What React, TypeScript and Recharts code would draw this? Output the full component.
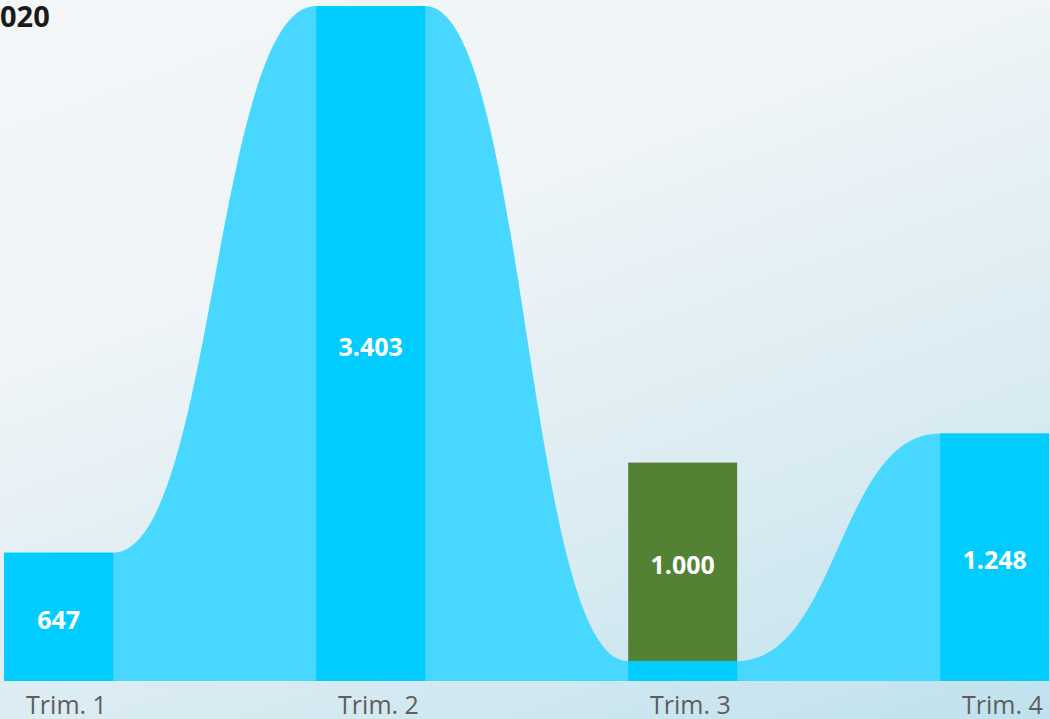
import { ComposedChart, Bar, Area, XAxis, YAxis, LabelList } from 'recharts'

const categories = ['Trim. 1', 'Trim. 2', 'Trim. 3', 'Trim. 4']
const baseValues = [647, 3403, 101, 1248]
const greenValues = [0, 0, 1000, 0]
const title = '020'

const BAR_W = 109
// half a bar, in category units (categories are 312px apart)
const HALF = 0.1747

type Row = { x: number; ribbon: number; base?: number | null; green?: number | null }

const rows: Row[] = []
categories.forEach((_, i) => {
  rows.push({ x: i - HALF, ribbon: baseValues[i], base: null, green: null })
  rows.push({ x: i, ribbon: baseValues[i], base: baseValues[i], green: greenValues[i] || null })
  rows.push({ x: i + HALF, ribbon: baseValues[i], base: null, green: null })
})

const fmt = (v: number) => v.toLocaleString('de-DE')

// recharts squeezes bars on a number axis, so widen them around their centre
const wideBar = (color: string) => (props: any) => {
  const { x, y, width, height } = props
  if (!height || height <= 0) return <g />
  const cx = x + width / 2
  return <rect x={cx - BAR_W / 2} y={y} width={BAR_W} height={height} fill={color} />
}

const renderLabel = (min: number) => (props: any) => {
  const { x, y, width, height, value } = props
  if (value == null || value < min) return null
  return (
    <text
      x={x + width / 2}
      y={y + height / 2}
      dy={12}
      textAnchor="middle"
      fill="#fff"
      fontFamily="'Open Sans', sans-serif"
      fontWeight={700}
      fontSize={25}
    >
      {fmt(value)}
    </text>
  )
}

const renderTick = (props: any) => {
  const { x, y, payload } = props
  return (
    <text
      x={x}
      y={y}
      dx={8}
      dy={25}
      textAnchor="middle"
      fill="#605E5C"
      fontFamily="'Open Sans', sans-serif"
      fontSize={25}
    >
      {categories[payload.value]}
    </text>
  )
}

export default function App() {
  return (
    <div
      style={{
        position: 'absolute',
        left: 0,
        top: 0,
        width: 1050,
        height: 719,
        overflow: 'hidden',
        background: 'linear-gradient(160deg, #f4f7f9 0%, #eef4f7 35%, #d9ebf2 70%, #bfe1ee 100%)',
      }}
    >
      <div
        style={{
          position: 'absolute',
          left: 0,
          top: 1,
          fontFamily: "'Open Sans', sans-serif",
          fontWeight: 700,
          fontSize: 29,
          color: '#1a1a1a',
          lineHeight: '30px',
        }}
      >
        {title}
      </div>
      <ComposedChart
        width={1050}
        height={719}
        data={rows}
        margin={{ top: 6, right: 0, bottom: 0, left: 0 }}
      >
        <XAxis
          dataKey="x"
          type="number"
          domain={[-0.1875, 3.178]}
          ticks={[0, 1, 2, 3]}
          allowDataOverflow
          axisLine={false}
          tickLine={false}
          height={38}
          tick={renderTick}
        />
        <YAxis hide domain={[0, 'dataMax']} />
        <Area
          dataKey="ribbon"
          type="bumpX"
          stroke="none"
          fill="#48d8ff"
          fillOpacity={1}
          isAnimationActive={false}
          dot={false}
          activeDot={false}
        />
        <Bar dataKey="base" stackId="a" fill="#00ccff" shape={wideBar('#00ccff')} isAnimationActive={false}>
          <LabelList dataKey="base" content={renderLabel(300)} />
        </Bar>
        <Bar dataKey="green" stackId="a" fill="#548235" shape={wideBar('#548235')} isAnimationActive={false}>
          <LabelList dataKey="green" content={renderLabel(1)} />
        </Bar>
      </ComposedChart>
    </div>
  )
}
